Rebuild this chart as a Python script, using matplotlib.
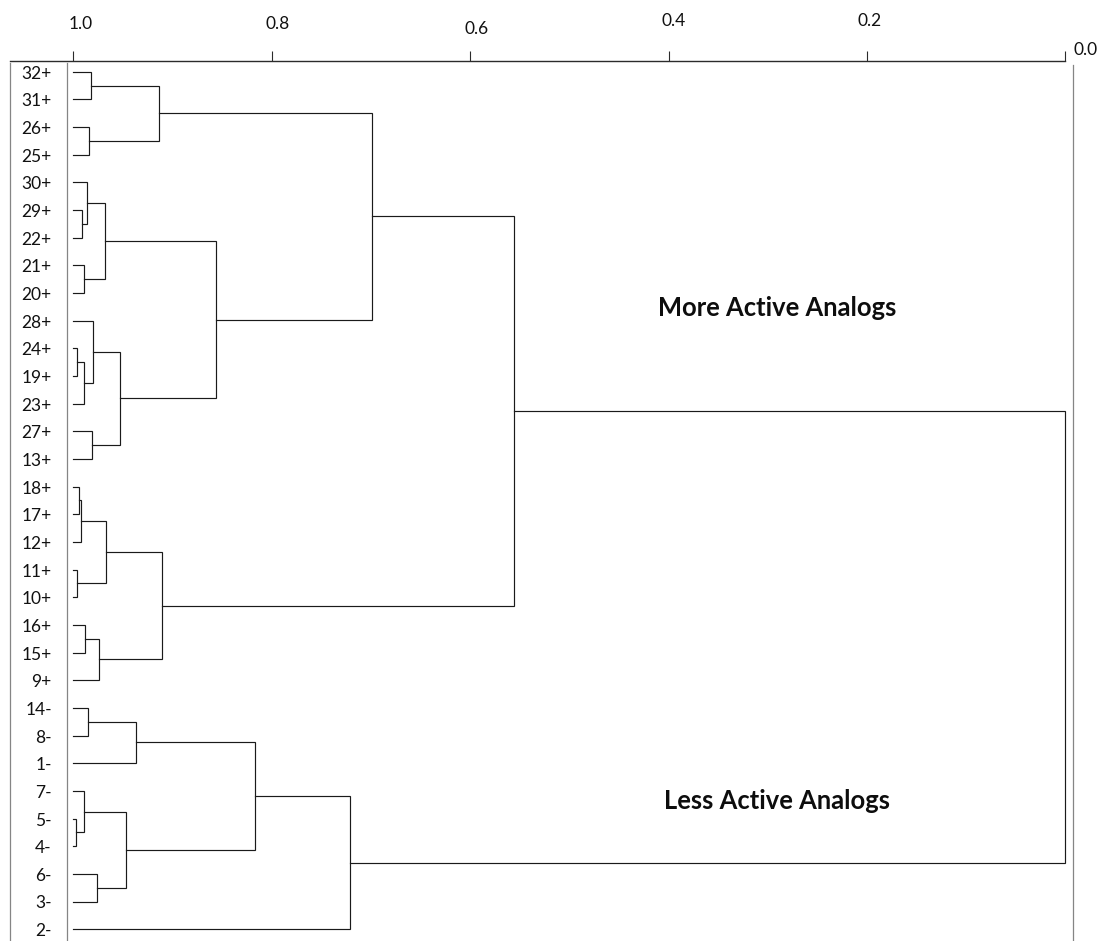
import matplotlib
matplotlib.use('Agg')
import matplotlib.pyplot as plt

plt.rcParams['font.family'] = ['Lato', 'DejaVu Sans']

# leaf order, top to bottom
leaves = ["32+", "31+", "26+", "25+", "30+", "29+", "22+", "21+", "20+",
          "28+", "24+", "19+", "23+", "27+", "13+", "18+", "17+", "12+",
          "11+", "10+", "16+", "15+", "9+", "14-", "8-", "1-", "7-", "5-",
          "4-", "6-", "3-", "2-"]

# joins: children are leaf names or the number of an earlier join
join_left = ["32+", "26+", 0, "29+", "30+", "21+", 4, "24+", 7, "28+",
             "27+", 9, 6, 2, "18+", 14, "11+", 15, "16+", 18, 17, 13,
             "14-", 22, "5-", "7-", "6-", 25, 23, 28, 21]
join_right = ["31+", "25+", 1, "22+", 3, "20+", 5, "19+", "23+", 8,
              "13+", 10, 11, 12, "17+", "12+", "10+", 16, "15+", "9+", 19, 20,
              "8-", "1-", "4-", 24, "3-", 26, 27, "2-", 29]
join_level = [0.982, 0.984, 0.914, 0.991, 0.986, 0.989, 0.968, 0.996, 0.989, 0.980,
              0.981, 0.953, 0.856, 0.699, 0.994, 0.992, 0.996, 0.967, 0.988, 0.974,
              0.911, 0.556, 0.985, 0.937, 0.997, 0.989, 0.976, 0.947, 0.817, 0.721,
              0.0]

axis_ticks = [1.0, 0.8, 0.6, 0.4, 0.2, 0.0]
tick_text = ["1.0", "0.8", "0.6", "0.4", "0.2", "0.0"]
group_names = ["More Active Analogs", "Less Active Analogs"]

# page layout in pixels
W, H = 1101, 941
x_one = 73.3          # pixel column of similarity 1.0
px_unit = 992.0       # pixels per unit of similarity
y_first = 71.7        # pixel row of the first leaf
row = 27.66           # pixels between leaves
box_left, box_right, box_top = 10, 1072.5, 61


def sim_at(px):
    return 1 - (px - x_one) / px_unit


def row_at(py):
    return (py - y_first) / row


fig = plt.figure(figsize=(W / 100, H / 100), dpi=100)
ax = fig.add_axes([box_left / W, 0, (box_right - box_left) / W, (H - box_top) / H])
ax.set_xlim(sim_at(box_left), sim_at(box_right))
ax.set_ylim(row_at(H), row_at(box_top))

ax.spines['bottom'].set_visible(False)
ax.spines['top'].set_bounds(sim_at(box_left), 0.0)
ax.spines['top'].set_color('#2b2b2b')
ax.spines['top'].set_linewidth(1.0)
ax.spines['left'].set_bounds(row_at(H), row_at(63.5))
ax.spines['right'].set_bounds(row_at(H), row_at(65))
for s in ['left', 'right']:
    ax.spines[s].set_color('#858585')
    ax.spines[s].set_linewidth(0.9)
# inner frame line next to the leaf names
ax.plot([sim_at(67), sim_at(67)], [row_at(63.5), row_at(H)], color='#858585', lw=0.9)

ax.xaxis.set_ticks_position('top')
ax.set_xticks(axis_ticks)
ax.set_yticks([])
ax.tick_params(axis='x', direction='out', length=7.2, width=0.8, color='#2b2b2b',
               labeltop=False, labelbottom=False)

# tick labels sit at uneven heights above the scale
label_dx = [7, 6, 6, 5.5, 3, 20.5]
label_dy = [37, 37, 32, 39.5, 39.5, 11]
for v, txt, dx, dy in zip(axis_ticks, tick_text, label_dx, label_dy):
    ax.annotate(txt, xy=(v, 1), xycoords=('data', 'axes fraction'),
                xytext=(dx, dy), textcoords='offset pixels',
                ha='center', va='center', fontsize=12.5, color='#111111')

# dendrogram links
pos = {name: (1.0, i) for i, name in enumerate(leaves)}
nodes = []
for a, b, lvl in zip(join_left, join_right, join_level):
    xa, ya = pos[a] if isinstance(a, str) else nodes[a]
    xb, yb = pos[b] if isinstance(b, str) else nodes[b]
    ax.plot([xa, lvl, lvl, xb], [ya, ya, yb, yb], color='#1a1a1a', lw=0.85,
            solid_joinstyle='miter')
    nodes.append((lvl, (ya + yb) / 2))

for i, name in enumerate(leaves):
    ax.annotate(name, xy=(1.0, i), xytext=(-21.5, -2), textcoords='offset pixels',
                ha='right', va='center', fontsize=12.5, color='#111111')

ax.text(sim_at(777), row_at(308), group_names[0], ha='center', va='center',
        fontsize=18.4, fontweight='bold', color='#0d0d0d')
ax.text(sim_at(777), row_at(801), group_names[1], ha='center', va='center',
        fontsize=18.4, fontweight='bold', color='#0d0d0d')

fig.savefig('out.png', dpi=100)
